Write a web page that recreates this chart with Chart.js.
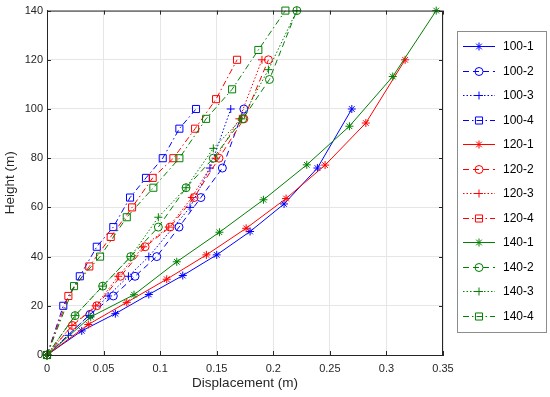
<!DOCTYPE html>
<html>
<head>
<meta charset="utf-8">
<script src="https://cdn.jsdelivr.net/npm/chart.js@4.4.1/dist/chart.umd.min.js"></script>
<style>
  html, body { margin: 0; padding: 0; background: #fff; }
  #wrap { width: 550px; height: 397px; }
</style>
</head>
<body>
<div id="wrap"><canvas id="c" width="550" height="397"></canvas></div>
<script>
const xTicks = [0, 0.05, 0.1, 0.15, 0.2, 0.25, 0.3, 0.35];
const yTicks = [0, 20, 40, 60, 80, 100, 120, 140];

// height (m) / displacement (m) per case
const h100_1 = [0, 9.8, 16.8, 24.6, 32.3, 40.7, 50.2, 61.4, 76, 100];
const d100_1 = [0, 0.0307, 0.0604, 0.090, 0.120, 0.150, 0.1795, 0.2095, 0.239, 0.2694];
const h100_2 = [0, 16.5, 24, 32, 40, 52, 64, 76, 100];
const d100_2 = [0, 0.038, 0.0586, 0.0778, 0.097, 0.1167, 0.136, 0.155, 0.174];
const h100_3 = [0, 8, 16, 24, 32, 40, 60, 76, 100];
const d100_3 = [0, 0.019, 0.037, 0.054, 0.072, 0.090, 0.1264, 0.144, 0.1624];
const h100_4 = [0, 20, 32, 44, 52, 64, 72, 80, 92, 100];
const d100_4 = [0, 0.0144, 0.029, 0.044, 0.0586, 0.0734, 0.0875, 0.1023, 0.117, 0.1317];

const h120_1 = [0, 12.4, 21.4, 30.8, 40.7, 51.5, 63.6, 77.2, 94.3, 120];
const d120_1 = [0, 0.0365, 0.0705, 0.1058, 0.1409, 0.176, 0.2113, 0.2458, 0.2818, 0.3165];
const h120_2 = [0, 12, 20, 32, 44, 52, 64, 80, 96, 120];
const d120_2 = [0, 0.0224, 0.044, 0.065, 0.0867, 0.1088, 0.130, 0.152, 0.174, 0.1957];
const h120_3 = [0, 12, 20, 32, 44, 52, 64, 80, 96, 120];
const d120_3 = [0, 0.022, 0.043, 0.063, 0.085, 0.1076, 0.128, 0.149, 0.170, 0.190];
const h120_4 = [0, 24, 36, 48, 60, 72, 80, 92, 104, 120];
const d120_4 = [0, 0.0189, 0.0374, 0.0563, 0.0752, 0.0934, 0.1117, 0.1309, 0.1494, 0.168];

const h140_1 = [0, 15.5, 24.5, 37.9, 49.9, 63.1, 77.3, 93, 113.2, 140];
const d140_1 = [0, 0.0386, 0.0769, 0.1147, 0.1524, 0.1913, 0.2296, 0.2673, 0.3056, 0.344];
const h140_2 = [0, 16, 28, 40, 52, 68, 80, 96, 112, 140];
const d140_2 = [0, 0.0248, 0.0492, 0.074, 0.0984, 0.1229, 0.147, 0.173, 0.1966, 0.2208];
const h140_3 = [0, 16, 28, 40, 56, 68, 84, 96, 116, 140];
const d140_3 = [0, 0.0248, 0.0492, 0.074, 0.0984, 0.1229, 0.147, 0.172, 0.1957, 0.2208];
const h140_4 = [0, 28, 40, 56, 68, 80, 96, 108, 124, 140];
const d140_4 = [0, 0.0239, 0.0469, 0.0705, 0.094, 0.117, 0.1406, 0.1636, 0.1868, 0.2107];

const BLUE = "#0000ff", RED = "#ff0000", GREEN = "#008000";
const SOLID = [], DASH = [6, 4], DOT = [1.5, 2], DASHDOT = [6, 3, 1.5, 3];

const series = [
  { label: "100-1", h: h100_1, d: d100_1, color: BLUE, dash: SOLID, pt: "star", r: 4 },
  { label: "100-2", h: h100_2, d: d100_2, color: BLUE, dash: DASH, pt: "circle", r: 4 },
  { label: "100-3", h: h100_3, d: d100_3, color: BLUE, dash: DOT, pt: "cross", r: 4 },
  { label: "100-4", h: h100_4, d: d100_4, color: BLUE, dash: DASHDOT, pt: "rect", r: 5 },
  { label: "120-1", h: h120_1, d: d120_1, color: RED, dash: SOLID, pt: "star", r: 4 },
  { label: "120-2", h: h120_2, d: d120_2, color: RED, dash: DASH, pt: "circle", r: 4 },
  { label: "120-3", h: h120_3, d: d120_3, color: RED, dash: DOT, pt: "cross", r: 4 },
  { label: "120-4", h: h120_4, d: d120_4, color: RED, dash: DASHDOT, pt: "rect", r: 5 },
  { label: "140-1", h: h140_1, d: d140_1, color: GREEN, dash: SOLID, pt: "star", r: 4 },
  { label: "140-2", h: h140_2, d: d140_2, color: GREEN, dash: DASH, pt: "circle", r: 4 },
  { label: "140-3", h: h140_3, d: d140_3, color: GREEN, dash: DOT, pt: "cross", r: 4 },
  { label: "140-4", h: h140_4, d: d140_4, color: GREEN, dash: DASHDOT, pt: "rect", r: 5 },
];

const AXIS = "#262626";
const FONT = "'Liberation Sans', Arial, Helvetica, sans-serif";

const frame = {
  id: "frame",
  afterDraw(chart) {
    const ctx = chart.ctx;
    const a = chart.chartArea;
    const xs = chart.scales.x, ys = chart.scales.y;
    ctx.save();
    ctx.strokeStyle = AXIS;
    ctx.lineWidth = 1;
    ctx.setLineDash([]);
    ctx.strokeRect(a.left + 0.5, a.top + 0.5, a.right - a.left - 1, a.bottom - a.top);
    // inner ticks
    ctx.beginPath();
    xTicks.forEach((v) => {
      const px = Math.round(xs.getPixelForValue(v)) + 0.5;
      ctx.moveTo(px, a.bottom); ctx.lineTo(px, a.bottom - 4);
      ctx.moveTo(px, a.top); ctx.lineTo(px, a.top + 4);
    });
    yTicks.forEach((v) => {
      const py = Math.round(ys.getPixelForValue(v)) + 0.5;
      ctx.moveTo(a.left, py); ctx.lineTo(a.left + 4, py);
      ctx.moveTo(a.right, py); ctx.lineTo(a.right - 4, py);
    });
    ctx.stroke();

    // axis titles
    ctx.fillStyle = AXIS;
    ctx.font = "13.5px " + FONT;
    ctx.textAlign = "center";
    ctx.textBaseline = "middle";
    ctx.fillText("Displacement (m)", (a.left + a.right) / 2, 383);
    ctx.save();
    ctx.translate(10, (a.top + a.bottom) / 2);
    ctx.rotate(-Math.PI / 2);
    ctx.fillText("Height (m)", 0, 0);
    ctx.restore();

    // legend
    const lx = 457, ly = 31, lw = 89, lh = 301;
    ctx.fillStyle = "#fff";
    ctx.fillRect(lx, ly, lw, lh);
    ctx.strokeStyle = "#8c8c8c";
    ctx.strokeRect(lx + 0.5, ly + 0.5, lw, lh);
    series.forEach((s, i) => {
      const y = Math.round(46 + i * 24.5) + 0.5;
      ctx.strokeStyle = s.color;
      ctx.lineWidth = 1;
      ctx.setLineDash(s.dash);
      ctx.beginPath();
      ctx.moveTo(463, y); ctx.lineTo(495, y);
      ctx.stroke();
      ctx.setLineDash([]);
      ctx.fillStyle = "rgba(0,0,0,0)";
      Chart.helpers.drawPoint(ctx, { pointStyle: s.pt, radius: s.r, borderWidth: 1, rotation: 0 }, 479, y);
      ctx.fillStyle = "#000";
      ctx.font = "12px " + FONT;
      ctx.textAlign = "left";
      ctx.fillText(s.label, 503, y);
    });
    ctx.restore();
  },
};

new Chart(document.getElementById("c"), {
  type: "scatter",
  data: {
    datasets: series.map((s, i) => ({
      label: s.label,
      data: s.d.map((v, k) => ({ x: v, y: s.h[k] })),
      order: -i,
      showLine: true,
      borderColor: s.color,
      backgroundColor: "rgba(0,0,0,0)",
      borderWidth: 1,
      borderDash: s.dash,
      pointStyle: s.pt,
      pointRadius: s.r,
      pointBorderWidth: 1,
      pointBorderColor: s.color,
      pointBackgroundColor: "rgba(0,0,0,0)",
      tension: 0,
      clip: 8,
    })),
  },
  plugins: [frame],
  options: {
    responsive: false,
    animation: false,
    devicePixelRatio: 1,
    layout: { padding: { top: 8, right: 107, left: 0, bottom: 0 } },
    plugins: { legend: { display: false }, tooltip: { enabled: false } },
    scales: {
      x: {
        type: "linear",
        min: 0,
        max: 0.35,
        afterBuildTicks: (s) => { s.ticks = xTicks.map((v) => ({ value: v })); },
        afterFit: (s) => { s.height = 42; },
        ticks: {
          color: AXIS,
          font: { family: FONT, size: 11 },
          padding: 7,
          maxRotation: 0,
          callback: (v) => String(+v.toFixed(2)),
        },
        grid: { color: "#e6e6e6", drawTicks: false },
        border: { display: true, color: AXIS },
      },
      y: {
        type: "linear",
        min: 0,
        max: 140,
        afterBuildTicks: (s) => { s.ticks = yTicks.map((v) => ({ value: v })); },
        afterFit: (s) => { s.width = 47; },
        ticks: {
          color: AXIS,
          font: { family: FONT, size: 11 },
          padding: 4,
          callback: (v) => String(v),
        },
        grid: { color: "#e6e6e6", drawTicks: false },
        border: { display: true, color: AXIS },
      },
    },
  },
});
</script>
</body>
</html>
